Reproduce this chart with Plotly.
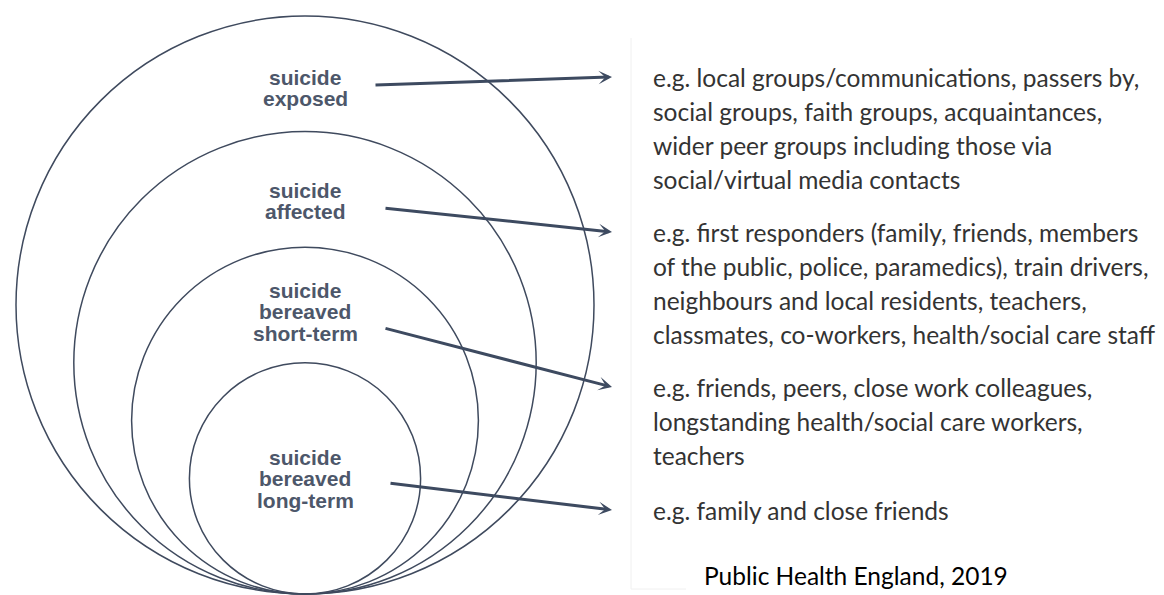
import plotly.graph_objects as go

# ---- data -------------------------------------------------------------
ring_labels = [
    ["suicide", "exposed"],
    ["suicide", "affected"],
    ["suicide", "bereaved", "short-term"],
    ["suicide", "bereaved", "long-term"],
]
# relative reach of each ring (outer ring = 1.0)
ring_reach = [1.0, 0.8, 0.6, 0.4]

ring_examples = [
    ["e.g. local groups/communications, passers by,",
     "social groups, faith groups, acquaintances,",
     "wider peer groups including those via",
     "social/virtual media contacts"],
    ["e.g. first responders (family, friends, members",
     "of the public, police, paramedics), train drivers,",
     "neighbours and local residents, teachers,",
     "classmates, co-workers, health/social care staff"],
    ["e.g. friends, peers, close work colleagues,",
     "longstanding health/social care workers,",
     "teachers"],
    ["e.g. family and close friends"],
]
source_note = "Public Health England, 2019"

# ---- layout constants (pixel space) -------------------------------------
W, H = 1164, 595
CX, BOTTOM, OUTER_R = 305, 594, 289
LABEL_Y = [77, 190, 290, 457]          # first line of each ring label
LABEL_DY = 21.5
ARROW_START = [(374, 85), (384, 208), (384, 328), (389, 483)]
ARROW_TIP_X = 612
TEXT_Y = [77, 232, 387, 510]           # first line of each description
TEXT_X = 651
TEXT_DY = 34

CIRCLE_COLOR = "#3f4a5e"
LABEL_COLOR = "#4d576a"
ARROW_COLOR = "#3d4a60"
TEXT_COLOR = "#333333"

fig = go.Figure()
fig.add_trace(go.Scatter(x=[0, W], y=[0, H], mode="markers",
                         marker=dict(opacity=0), hoverinfo="skip",
                         showlegend=False))

# rings
for reach in ring_reach:
    r = OUTER_R * reach
    fig.add_shape(type="circle", xref="x", yref="y",
                  x0=CX - r, x1=CX + r, y0=BOTTOM - 2 * r, y1=BOTTOM,
                  line=dict(color=CIRCLE_COLOR, width=1.5),
                  fillcolor="rgba(0,0,0,0)", layer="below")

# faint divider from the source picture
fig.add_shape(type="line", xref="x", yref="y", x0=631, x1=631, y0=38, y1=589,
              line=dict(color="#f0f0f0", width=1))
fig.add_shape(type="line", xref="x", yref="y", x0=631, x1=686, y0=589, y1=589,
              line=dict(color="#f0f0f0", width=1))

# ring labels
for lines, y0 in zip(ring_labels, LABEL_Y):
    for i, t in enumerate(lines):
        fig.add_annotation(x=CX, y=y0 + i * LABEL_DY, xref="x", yref="y",
                           text=t, showarrow=False, xanchor="center",
                           yanchor="middle",
                           font=dict(family="Liberation Sans", size=21,
                                     color=LABEL_COLOR, weight="bold"))

# arrows
for (sx, sy), ty in zip(ARROW_START, TEXT_Y):
    fig.add_annotation(x=ARROW_TIP_X, y=ty, xref="x", yref="y",
                       ax=sx, ay=sy, axref="x", ayref="y", text="",
                       showarrow=True, arrowhead=3, arrowsize=0.75,
                       arrowwidth=3, arrowcolor=ARROW_COLOR, standoff=0,
                       startstandoff=0)

# descriptions
for lines, y0 in zip(ring_examples, TEXT_Y):
    for i, t in enumerate(lines):
        fig.add_annotation(x=TEXT_X, y=y0 + i * TEXT_DY, xref="x", yref="y",
                           text=t, showarrow=False, xanchor="left",
                           yanchor="middle",
                           font=dict(family="Lato", size=24.5,
                                     color=TEXT_COLOR))

fig.add_annotation(x=856, y=575, xref="x", yref="y", text=source_note,
                   showarrow=False, xanchor="center", yanchor="middle",
                   font=dict(family="Lato", size=24.5, color="#000000"))

fig.update_layout(
    width=W, height=H, margin=dict(l=0, r=0, t=0, b=0),
    paper_bgcolor="white", plot_bgcolor="white", showlegend=False,
    xaxis=dict(range=[0, W], visible=False, fixedrange=True),
    yaxis=dict(range=[H, 0], visible=False, fixedrange=True),
)

fig.write_html(
    "out.html",
    config={"displayModeBar": False},
    post_script="document.body.style.margin='0px';"
                "document.body.style.overflow='hidden';",
)
